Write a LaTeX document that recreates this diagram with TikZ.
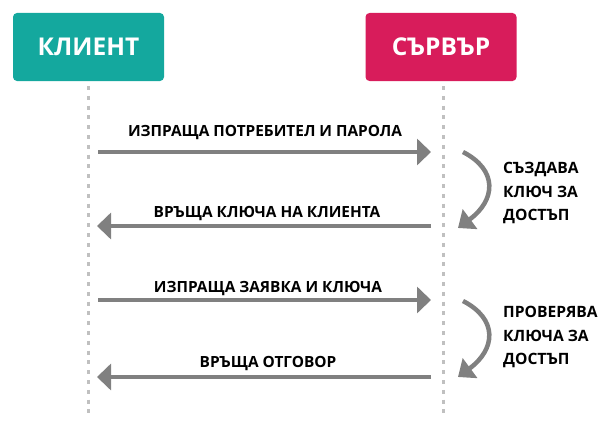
\documentclass[tikz,border=0pt]{standalone}
\usepackage{fontspec}
\setmainfont{Open Sans}
\usetikzlibrary{arrows.meta}
\definecolor{clientc}{RGB}{20,168,158}
\definecolor{serverc}{RGB}{216,28,91}
\definecolor{arrowc}{RGB}{128,128,128}
\definecolor{lifec}{RGB}{192,192,192}
\tikzset{
  actor/.style={rounded corners=4pt, minimum width=151pt, minimum height=68pt, text=white, font=\fontsize{24.5}{25}\selectfont\bfseries, inner sep=0pt},
  lifeline/.style={draw=lifec, line width=3pt, dash pattern=on 4pt off 5.8pt},
  msg/.style={draw=arrowc, line width=4.5pt, -{Triangle[length=14pt,width=26pt]}},
  selfmsg/.style={draw=arrowc, line width=4.5pt, -{Triangle[length=15pt,width=24pt]}},
  lbl/.style={font=\fontsize{15.4}{15}\selectfont\bfseries, anchor=base, inner sep=0pt},
  note/.style={font=\fontsize{15.6}{23.3}\selectfont\bfseries, align=left, anchor=west, inner sep=0pt}
}
\begin{document}
\begin{tikzpicture}[x=1pt,y=-1pt]
\useasboundingbox (0,0) rectangle (612,436);
\node[actor, fill=clientc] (client) at (88.5,47) {КЛИЕНТ};
\node[actor, fill=serverc] (server) at (441,47) {СЪРВЪР};
\coordinate (ctop) at (88,86);
\coordinate (cbot) at (88,414);
\coordinate (stop) at (443,86);
\coordinate (sbot) at (443,414);
\draw[lifeline] (ctop) -- (cbot);
\draw[lifeline] (stop) -- (sbot);
% messages
\coordinate (c1) at (98,152); \coordinate (s1) at (431,152);
\coordinate (s2) at (431,226); \coordinate (c2) at (97,226);
\coordinate (c3) at (98,300); \coordinate (s3) at (431,300);
\coordinate (s4) at (431,377); \coordinate (c4) at (97,377);
\draw[msg] (c1) -- (s1);
\draw[msg] (s2) -- (c2);
\draw[msg] (c3) -- (s3);
\draw[msg] (s4) -- (c4);
\node[lbl] (l1) at (265,136) {ИЗПРАЩА ПОТРЕБИТЕЛ И ПАРОЛА};
\node[lbl] (l2) at (267,217) {ВРЪЩА КЛЮЧА НА КЛИЕНТА};
\node[lbl] (l3) at (268,292) {ИЗПРАЩА ЗАЯВКА И КЛЮЧА};
\node[lbl] (l4) at (268,367) {ВРЪЩА ОТГОВОР};
% self arrows
\coordinate (a1) at (463,152); \coordinate (b1) at (458,228);
\coordinate (a2) at (463,301); \coordinate (b2) at (458,377);
\draw[selfmsg] (a1) .. controls (498,170) and (496,200) .. (b1);
\draw[selfmsg] (a2) .. controls (498,319) and (496,349) .. (b2);
\node[note] (n1) at (503,193) {СЪЗДАВА\\КЛЮЧ ЗА\\ДОСТЪП};
\node[note] (n2) at (503,337) {ПРОВЕРЯВА\\КЛЮЧА ЗА\\ДОСТЪП};
\end{tikzpicture}
\end{document}
